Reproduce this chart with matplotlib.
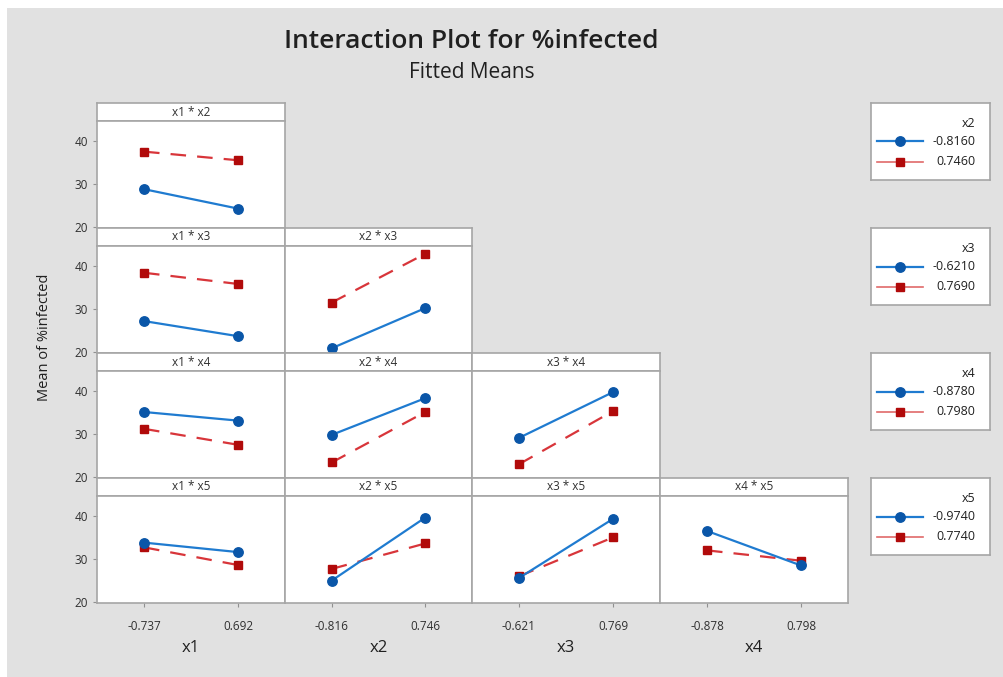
import matplotlib
matplotlib.use("Agg")
import matplotlib.pyplot as plt
from matplotlib.patches import Rectangle
from matplotlib.lines import Line2D

plt.rcParams['font.family'] = ['Open Sans', 'DejaVu Sans']

# factor names and level labels
factors = ["x1", "x2", "x3", "x4", "x5"]
axis_levels = {
    "x1": ["-0.737", "0.692"],
    "x2": ["-0.816", "0.746"],
    "x3": ["-0.621", "0.769"],
    "x4": ["-0.878", "0.798"],
}
legend_levels = {
    "x2": ["-0.8160", "0.7460"],
    "x3": ["-0.6210", "0.7690"],
    "x4": ["-0.8780", "0.7980"],
    "x5": ["-0.9740", "0.7740"],
}

# fitted means: (row factor low level, row factor high level)
low_means = {
    ("x1", "x2"): [28.8, 24.3],
    ("x1", "x3"): [27.2, 23.7],
    ("x2", "x3"): [20.9, 30.2],
    ("x1", "x4"): [35.1, 33.1],
    ("x2", "x4"): [29.8, 38.3],
    ("x3", "x4"): [29.1, 39.7],
    ("x1", "x5"): [33.8, 31.6],
    ("x2", "x5"): [25.0, 39.6],
    ("x3", "x5"): [25.6, 39.3],
    ("x4", "x5"): [36.5, 28.5],
}
high_means = {
    ("x1", "x2"): [37.5, 35.5],
    ("x1", "x3"): [38.4, 35.8],
    ("x2", "x3"): [31.5, 42.8],
    ("x1", "x4"): [31.2, 27.5],
    ("x2", "x4"): [23.4, 35.1],
    ("x3", "x4"): [23.0, 35.3],
    ("x1", "x5"): [32.7, 28.6],
    ("x2", "x5"): [27.7, 33.6],
    ("x3", "x5"): [26.0, 35.0],
    ("x4", "x5"): [32.0, 29.6],
}
yticks = [20, 30, 40]

W, H = 1004, 677
BLUE_LINE, BLUE_MK = "#1f7bd0", "#0a56a8"
RED_LINE, RED_MK = "#d8353a", "#b10a0a"
EDGE = "#a6a6a6"
BG = "#e1e1e1"

fig = plt.figure(figsize=(W / 100, H / 100), dpi=100, facecolor="white")


def box(x0, y0, x1, y1):
    # pixel box (top-left origin) -> figure fraction rect
    return [x0 / W, 1 - y1 / H, (x1 - x0) / W, (y1 - y0) / H]


fig.patches.append(Rectangle((7 / W, 0), 1, 1 - 8 / H, transform=fig.transFigure,
                             facecolor=BG, edgecolor="none", zorder=-10))

col_edges = [97, 285, 472, 660, 848]
row_top = 103
row_h = 125
strip_h = 18

for r in range(4):
    rf = factors[r + 1]
    top = row_top + r * row_h
    for c in range(r + 1):
        cf = factors[c]
        x0, x1 = col_edges[c], col_edges[c + 1]
        # strip
        sax = fig.add_axes(box(x0, top, x1, top + strip_h))
        sax.set_xticks([]); sax.set_yticks([])
        for s in sax.spines.values():
            s.set_color(EDGE); s.set_linewidth(1.2)
        sax.text(0.5, 0.5, f"{cf} * {rf}", ha="center", va="center",
                 fontsize=8.5, color="#303030", transform=sax.transAxes)
        # panel
        ax = fig.add_axes(box(x0, top + strip_h, x1, top + row_h))
        xs = [0, 1]
        ax.plot(xs, low_means[(cf, rf)], color=BLUE_LINE, lw=1.6, zorder=3,
                marker="o", ms=6.8, mfc=BLUE_MK, mec=BLUE_MK)
        ax.plot(xs, high_means[(cf, rf)], color=RED_LINE, lw=1.6, zorder=2,
                dashes=(7, 5), marker="s", ms=6.3, mfc=RED_MK, mec=RED_MK)
        ax.set_xlim(-0.5, 1.5)
        ax.set_ylim(19.8, 44.6)
        for s in ax.spines.values():
            s.set_color(EDGE); s.set_linewidth(1.2)
        ax.tick_params(colors="#909090", labelcolor="#303030", labelsize=8.5,
                       length=3, width=0.8)
        if c == 0:
            ax.set_yticks(yticks)
        else:
            ax.set_yticks([])
        if r == 3:
            ax.set_xticks(xs)
            ax.set_xticklabels(axis_levels[cf])
            ax.tick_params(axis="x", pad=9)
            fig.text((x0 + x1) / 2 / W, 1 - 648 / H, cf, ha="center", va="center",
                     fontsize=12, color="#202020")
        else:
            ax.set_xticks([])

    # legend box for this row
    lax = fig.add_axes(box(871, top, 990, top + 77))
    lax.set_xlim(0, 1); lax.set_ylim(0, 1)
    lax.set_xticks([]); lax.set_yticks([])
    for s in lax.spines.values():
        s.set_color(EDGE); s.set_linewidth(1.2)
    lax.text(0.88, 0.74, rf, ha="right", va="center", fontsize=9, color="#202020")
    labs = legend_levels[rf]
    lax.add_line(Line2D([0.05, 0.245, 0.44], [0.50, 0.50, 0.50], color=BLUE_LINE, lw=1.6,
                        marker="o", ms=6.8, mfc=BLUE_MK, mec=BLUE_MK, markevery=[1]))
    lax.add_line(Line2D([0.05, 0.245, 0.44], [0.24, 0.24, 0.24], color="#e06a6a", lw=1.2,
                        marker="s", ms=6.3, mfc=RED_MK, mec=RED_MK, markevery=[1]))
    lax.text(0.88, 0.50, labs[0], ha="right", va="center", fontsize=9, color="#202020")
    lax.text(0.88, 0.24, labs[1], ha="right", va="center", fontsize=9, color="#202020")

fig.text(471 / W, 1 - 42 / H, "Interaction Plot for %infected", ha="center", va="center",
         fontsize=19, fontweight="semibold", color="#202020")
fig.text(472 / W, 1 - 73 / H, "Fitted Means", ha="center", va="center",
         fontsize=15, fontweight="medium", color="#202020")
fig.text(45 / W, 1 - 337 / H, "Mean of %infected", ha="center", va="center",
         rotation=90, fontsize=10.5, color="#202020")

fig.savefig("out.png", dpi=100, facecolor="white")
